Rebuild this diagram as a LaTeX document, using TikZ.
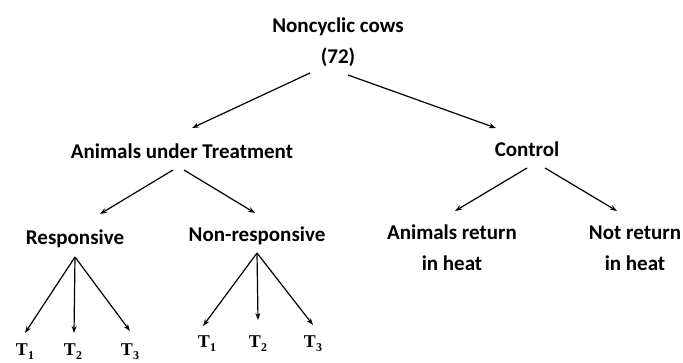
\documentclass[tikz,border=0pt]{standalone}
\usepackage{fontspec}
\setmainfont{Carlito}
\newfontfamily\tfont{Liberation Serif}
\usetikzlibrary{arrows.meta}
\newcommand{\tlab}[1]{{\tfont\bfseries\fontsize{18}{20}\selectfont T\raisebox{-0.25em}{\fontsize{12}{12}\selectfont #1}}}

\begin{document}
\begin{tikzpicture}[x=1pt, y=-1pt,
  every node/.style={inner sep=0pt, anchor=base, font=\bfseries\fontsize{21}{31}\selectfont, align=center},
  arr/.style={-{Stealth[length=7pt,width=5pt]}, line width=1.2pt}]
  \useasboundingbox (0,0) rectangle (683,362);
  \node (root) at (338,63) {Noncyclic cows\\(72)};
  \node (treat) at (182,158) {Animals under Treatment};
  \node (ctrl) at (527,156) {Control};
  \node (resp) at (75,244) {Responsive};
  \node (nonresp) at (257,241) {Non-responsive};
  \node[font=\bfseries\fontsize{21}{31}\selectfont] (ret) at (452,270) {Animals return\\in heat};
  \node[font=\bfseries\fontsize{21}{31}\selectfont] (noret) at (635,270) {Not return\\in heat};
  \node (ra) at (25,355) {\tlab{1}};
  \node (rb) at (73,355) {\tlab{2}};
  \node (rc) at (130,355) {\tlab{3}};
  \node (na) at (207,347) {\tlab{1}};
  \node (nb) at (258,347) {\tlab{2}};
  \node (nc) at (313,347) {\tlab{3}};
  \path[arr]
  ([shift={(-28,10)}]root.base) edge ([shift={(10,-30)}]treat.base)
  ([shift={(10,12)}]root.base) edge ([shift={(-31,-28)}]ctrl.base)
  ([shift={(-9,12)}]treat.base) edge ([shift={(25,-30)}]resp.base)
  ([shift={(2,12)}]treat.base) edge ([shift={(-2,-28)}]nonresp.base)
  ([shift={(0,12)}]ctrl.base) edge ([shift={(3,-59)}]ret.base)
  ([shift={(18,12)}]ctrl.base) edge ([shift={(-18,-59)}]noret.base)
  ;
  \path[arr]
  ([shift={(0,13)}]resp.base) edge ([shift={(0,-22)}]ra.base)
  ([shift={(0,13)}]resp.base) edge ([shift={(1,-22)}]rb.base)
  ([shift={(0,13)}]resp.base) edge ([shift={(0,-24)}]rc.base)
  ([shift={(0,12)}]nonresp.base) edge ([shift={(-4,-21)}]na.base)
  ([shift={(0,12)}]nonresp.base) edge ([shift={(0,-27)}]nb.base)
  ([shift={(0,12)}]nonresp.base) edge ([shift={(0,-22)}]nc.base)
  ;
\end{tikzpicture}
\end{document}
